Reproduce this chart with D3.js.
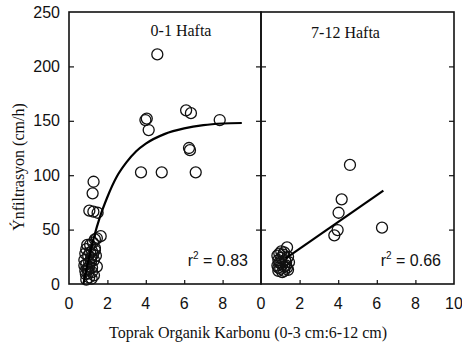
<!DOCTYPE html>
<html lang="tr">
<head>
<meta charset="UTF-8">
<title>Infiltrasyon</title>
<script src="https://d3js.org/d3.v7.min.js"></script>
<style>
  body { margin: 0; background: #fff; }
  .tick-label { font-family: "Liberation Sans", Arial, sans-serif; font-size: 16px; fill: #111; }
  .serif { font-family: "Liberation Serif", "Times New Roman", serif; fill: #111; }
</style>
</head>
<body>
<svg width="462" height="343"></svg>
<script>
// panel 1: 0-1 Hafta
var leftX = [4.6, 6.1, 6.35, 7.85, 3.98, 4.05, 4.15, 6.25, 6.3, 3.75, 4.83, 6.6,
  1.28, 1.23, 1.06, 1.27, 1.49, 1.65, 1.35, 1.45, 1.25, 1.1, 1.35, 0.9, 1.2,
  0.85, 1.0, 1.15, 0.8, 1.3, 1.05, 0.9, 1.45, 1.2, 0.95, 1.4, 0.85, 1.0, 1.18, 1.3, 1.05, 0.9,
  0.95, 1.1, 1.25, 0.8, 1.0, 1.15, 1.35, 0.88, 1.05, 1.2];
var leftY = [211, 159.6, 157, 150.7, 150.7, 152, 141.5, 125, 123, 102.6, 102.6, 102.6,
  94, 83.3, 67.4, 66.5, 65.5, 44, 41, 42, 38, 36, 33, 32, 30,
  28, 26, 24, 22, 22, 20, 18, 16, 15, 14, 26, 12, 10, 5, 8, 6, 4,
  36, 29, 27, 17, 13, 21, 31, 9, 16, 11];

// panel 2: 7-12 Hafta
var rightX = [4.61, 4.18, 4.02, 3.97, 3.8, 6.27, 1.35,
  0.9, 1.0, 1.2, 1.4, 0.85, 1.1, 1.3, 0.9, 1.05, 1.25, 1.45, 0.95, 1.15, 0.85, 1.35, 1.0, 1.2, 0.9, 1.4,
  1.1, 0.95, 1.3, 1.05, 1.2];
var rightY = [109.4, 77.8, 65.5, 49.6, 44.7, 51.8, 33.7,
  12, 14, 12, 13, 17, 18, 17, 22, 24, 22, 20, 28, 27, 26, 15, 19, 29, 15, 25,
  11, 20, 20, 30, 16];

// fitted lines
var fitLeftX = [0.75, 1.0, 1.3, 1.6, 2.0, 2.5, 3.0, 3.5, 4.0, 5.0, 6.0, 7.0, 8.0, 9.0];
var fitLeftY = [0, 21, 43, 61, 80, 99, 112, 122, 129, 138, 143, 146, 147.5, 148];
var fitRightX = [1.28, 6.34];
var fitRightY = [23.6, 85.8];

var xTicks = [0, 2, 4, 6, 8];
var xTicksRight = [0, 2, 4, 6, 8, 10];
var yTicks = [0, 50, 100, 150, 200, 250];

var svg = d3.select("svg");
var plotTop = 12, plotBottom = 284;

var y = d3.scaleLinear().domain([0, 250]).range([plotBottom, plotTop]);
var xL = d3.scaleLinear().domain([0, 10]).range([69, 261]);
var xR = d3.scaleLinear().domain([0, 10]).range([261, 454]);

function panel(x, xs, ys, fx, fy, tickVals, title, titleY, r2) {
    var g = svg.append("g");
    // inside ticks
    g.append("g").attr("transform", "translate(" + x.range()[0] + ",0)")
        .call(d3.axisRight(y).tickValues(yTicks.slice(1, 5)).tickSize(5).tickFormat(""));
    g.append("g").attr("transform", "translate(" + x.range()[1] + ",0)")
        .call(d3.axisLeft(y).tickValues(yTicks.slice(1, 5)).tickSize(5).tickFormat(""));
    g.append("g").attr("transform", "translate(0," + plotBottom + ")")
        .call(d3.axisTop(x).tickValues([2, 4, 6, 8]).tickSize(4).tickFormat(""));
    g.selectAll(".domain").remove();
    g.selectAll(".tick line").attr("stroke", "#111").attr("stroke-width", 1.2);

    // tick labels below
    g.selectAll(".xl").data(tickVals).enter().append("text")
        .attr("class", "tick-label")
        .attr("x", d => x(d)).attr("y", 309)
        .attr("text-anchor", "middle")
        .text(d => d);

    g.append("rect")
        .attr("x", x.range()[0]).attr("y", plotTop)
        .attr("width", x.range()[1] - x.range()[0]).attr("height", plotBottom - plotTop)
        .attr("fill", "none").attr("stroke", "#111").attr("stroke-width", 1.6);

    g.selectAll("circle.pt").data(xs).enter().append("circle")
        .attr("class", "pt")
        .attr("cx", d => x(d)).attr("cy", (d, i) => y(ys[i]))
        .attr("r", 5.5)
        .attr("fill", "none").attr("stroke", "#111").attr("stroke-width", 1.3);

    var line = d3.line().x(d => x(d[0])).y(d => y(d[1])).curve(d3.curveMonotoneX);
    g.append("path")
        .attr("d", line(fx.map((d, i) => [d, fy[i]])))
        .attr("fill", "none").attr("stroke", "#000").attr("stroke-width", 2.2);

    g.append("text").attr("class", "serif")
        .attr("x", (x.range()[0] + x.range()[1]) / 2 + (x === xL ? 16 : -12)).attr("y", titleY)
        .attr("text-anchor", "middle").attr("font-size", 16)
        .text(title);

    var t = g.append("text").attr("class", "tick-label")
        .attr("x", x.range()[1] - 13).attr("y", 266)
        .attr("text-anchor", "end");
    t.append("tspan").text("r");
    t.append("tspan").attr("font-size", 10).attr("dy", -7).text("2");
    t.append("tspan").attr("dy", 7).text(" = " + r2);
}

panel(xL, leftX, leftY, fitLeftX, fitLeftY, xTicks, "0-1 Hafta", 36, "0.83");
panel(xR, rightX, rightY, fitRightX, fitRightY, xTicksRight, "7-12 Hafta", 38, "0.66");

// y tick labels
svg.selectAll(".yl").data(yTicks).enter().append("text")
    .attr("class", "tick-label")
    .attr("x", 60).attr("y", d => y(d) + 5.5)
    .attr("text-anchor", "end")
    .text(d => d);

svg.append("text").attr("class", "serif")
    .attr("transform", "translate(24,167) rotate(-90)")
    .attr("text-anchor", "middle").attr("font-size", 16)
    .text("Ýnfiltrasyon (cm/h)");

svg.append("text").attr("class", "serif")
    .attr("x", 248).attr("y", 338)
    .attr("text-anchor", "middle").attr("font-size", 16)
    .text("Toprak Organik Karbonu (0-3 cm:6-12 cm)");
</script>
</body>
</html>
